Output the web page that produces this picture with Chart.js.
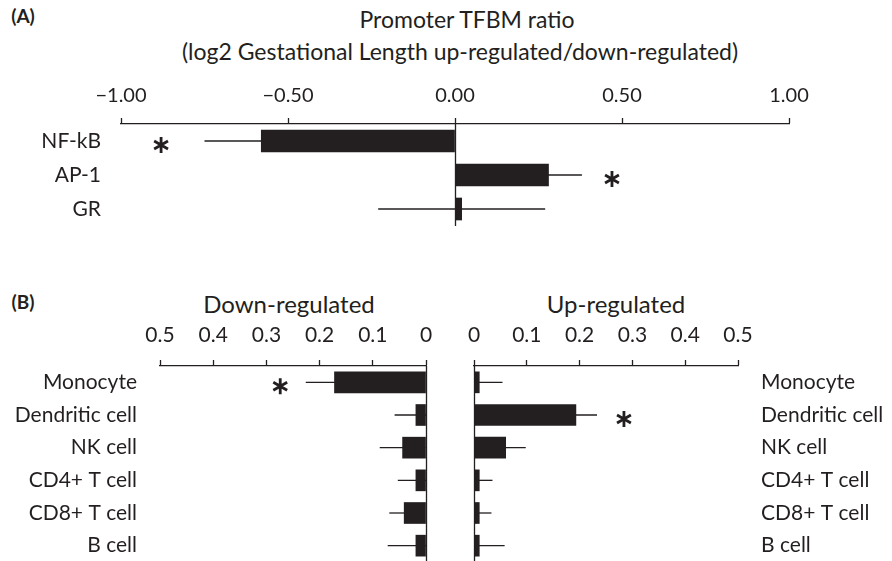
<!DOCTYPE html>
<html lang="en">
<head>
<meta charset="UTF-8">
<title>Promoter TFBM ratio</title>
<script src="https://cdn.jsdelivr.net/npm/chart.js@4.4.0/dist/chart.umd.min.js"></script>
<style>
  body { margin: 0; width: 892px; height: 561px; overflow: hidden; background: #fff; position: relative;
         font-family: Lato, sans-serif; color: #231f20; }
  .t { position: absolute; white-space: nowrap; transform: translate(-50%, -50%); }
  canvas { position: absolute; }
</style>
</head>
<body>
<div class="t" style="left:23px;top:15px;font-weight:bold;font-size:19px">(A)</div>
<div class="t" style="left:467px;top:19px;font-size:23px">Promoter TFBM ratio</div>
<div class="t" style="left:460px;top:51px;font-size:23px">(log2 Gestational Length up-regulated/down-regulated)</div>
<div class="t" style="left:23px;top:301px;font-weight:bold;font-size:19px">(B)</div>
<div class="t" style="left:289px;top:303px;font-size:24px">Down-regulated</div>
<div class="t" style="left:616px;top:303px;font-size:24px">Up-regulated</div>

<canvas id="chartA" width="892" height="146" style="left:0;top:80px"></canvas>
<canvas id="chartDown" width="440" height="242" style="left:0;top:320px"></canvas>
<canvas id="chartUp" width="452" height="242" style="left:440px;top:320px"></canvas>

<script>
const INK = '#231f20';

// (A) promoter TFBM ratio
const tfbmLabels = ['NF-kB', 'AP-1', 'GR'];
const tfbmRatio = [-0.58, 0.28, 0.02];
const tfbmError = [0.17, 0.10, 0.25];
const tfbmStar = [-0.88, 0.47, null];   // where the * sits, in axis units
const tfbmTicks = ['\u22121.00', '\u22120.50', '0.00', '0.50', '1.00'];

// (B) cell types
const cellLabels = ['Monocyte', 'Dendritic cell', 'NK cell', 'CD4+ T cell', 'CD8+ T cell', 'B cell'];
const downValues = [0.172, 0.019, 0.044, 0.019, 0.041, 0.019];
const downError = [0.054, 0.040, 0.043, 0.034, 0.028, 0.053];
const downStar = [0.274, null, null, null, null, null];
const upValues = [0.010, 0.193, 0.060, 0.010, 0.010, 0.010];
const upError = [0.044, 0.040, 0.038, 0.025, 0.023, 0.048];
const upStar = [null, 0.284, null, null, null, null];
const cellTicks = ['0', '0.1', '0.2', '0.3', '0.4', '0.5'];

// error bars under the bars, zero line and asterisks on top
const markPlugin = {
  id: 'marks',
  beforeDatasetsDraw(chart) {
    const ctx = chart.ctx, xs = chart.scales.x, ys = chart.scales.y, a = chart.chartArea;
    const ds = chart.data.datasets[0];
    ctx.save();
    ctx.beginPath();
    ctx.rect(a.left, a.top - 2, a.right - a.left, a.bottom - a.top + 4);
    ctx.clip();
    ctx.strokeStyle = INK;
    ctx.lineWidth = 1.3;
    ds.data.forEach((v, i) => {
      const y = ys.getPixelForValue(i);
      ctx.beginPath();
      ctx.moveTo(xs.getPixelForValue(v - ds.errors[i]), y);
      ctx.lineTo(xs.getPixelForValue(v + ds.errors[i]), y);
      ctx.stroke();
    });
    ctx.restore();
  },
  afterDatasetsDraw(chart) {
    const ctx = chart.ctx, xs = chart.scales.x, ys = chart.scales.y, a = chart.chartArea;
    const ds = chart.data.datasets[0];
    ctx.save();
    ctx.strokeStyle = INK;
    ctx.lineWidth = 1.3;
    const x0 = Math.round(xs.getPixelForValue(0)) + 0.5;
    ctx.beginPath();
    ctx.moveTo(x0, a.top);
    ctx.lineTo(x0, a.bottom + 2);
    ctx.stroke();
    // asterisk: three crossing strokes
    ctx.lineWidth = 2.8;
    ds.stars.forEach((s, i) => {
      if (s === null) return;
      const cx = xs.getPixelForValue(s), cy = ys.getPixelForValue(i) + 4, r = 8;
      ctx.beginPath();
      for (let k = 0; k < 3; k++) {
        const ang = Math.PI / 2 + k * Math.PI / 3;
        ctx.moveTo(cx + r * Math.cos(ang), cy + r * Math.sin(ang));
        ctx.lineTo(cx - r * Math.cos(ang), cy - r * Math.sin(ang));
      }
      ctx.stroke();
    });
    ctx.restore();
  }
};

function makeChart(id, cfg) {
  return new Chart(document.getElementById(id), {
    type: 'bar',
    data: {
      labels: cfg.labels,
      datasets: [{
        data: cfg.values,
        errors: cfg.errors,
        stars: cfg.stars,
        backgroundColor: INK,
        barThickness: cfg.bar
      }]
    },
    options: {
      indexAxis: 'y',
      responsive: false,
      animation: false,
      layout: { padding: cfg.padding },
      plugins: { legend: { display: false }, tooltip: { enabled: false } },
      scales: {
        x: {
          position: 'top',
          min: cfg.min,
          max: cfg.max,
          reverse: cfg.reverse,
          afterFit: s => { s.height = cfg.axisHeight; s.paddingLeft = 0; s.paddingRight = 0; },
          border: { color: INK, width: 1.3 },
          grid: { drawOnChartArea: false, tickLength: 6, tickColor: INK, tickWidth: 1.3 },
          ticks: {
            stepSize: cfg.step,
            padding: cfg.tickPad,
            color: INK,
            autoSkip: false,
            maxRotation: 0,
            font: { family: 'Lato', size: cfg.tickSize },
            callback: v => cfg.ticks[Math.round((v - cfg.min) / cfg.step)]
          }
        },
        y: {
          position: cfg.side,
          afterFit: s => { s.width = cfg.labelWidth; s.paddingTop = 0; s.paddingBottom = 0; },
          border: { display: false },
          grid: { display: false },
          ticks: { padding: cfg.labelPad, color: INK, autoSkip: false, font: { family: 'Lato', size: 21 } }
        }
      }
    },
    plugins: [markPlugin]
  });
}

makeChart('chartA', {
  labels: tfbmLabels, values: tfbmRatio, errors: tfbmError, stars: tfbmStar, ticks: tfbmTicks,
  min: -1, max: 1, step: 0.5, reverse: false, bar: 22, side: 'left',
  axisHeight: 44, tickPad: 10, tickSize: 20, labelWidth: 121, labelPad: 12,
  padding: { left: 0, right: 103, top: 0, bottom: 0 }
});

makeChart('chartDown', {
  labels: cellLabels, values: downValues, errors: downError, stars: downStar, ticks: cellTicks,
  min: 0, max: 0.5, step: 0.1, reverse: true, bar: 21, side: 'left',
  axisHeight: 46, tickPad: 12, tickSize: 21, labelWidth: 160, labelPad: 15,
  padding: { left: 0, right: 14, top: 0, bottom: 0 }
});

makeChart('chartUp', {
  labels: cellLabels, values: upValues, errors: upError, stars: upStar, ticks: cellTicks,
  min: 0, max: 0.5, step: 0.1, reverse: false, bar: 21, side: 'right',
  axisHeight: 46, tickPad: 12, tickSize: 21, labelWidth: 154, labelPad: 15,
  padding: { left: 34, right: 0, top: 0, bottom: 0 }
});
</script>
</body>
</html>
